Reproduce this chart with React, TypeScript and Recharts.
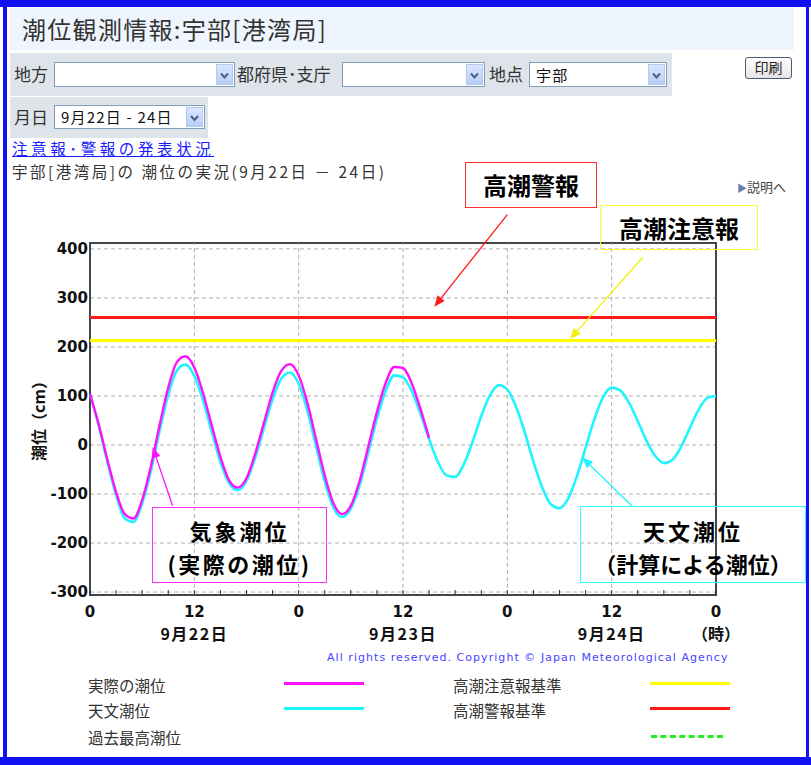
import React from "react"
import { LineChart, Line, XAxis, YAxis, CartesianGrid, ReferenceLine, ReferenceArea } from "recharts"

// hours from 0:00 on 9/22 to 0:00 on 9/25
const hours = Array.from({ length: 73 }, (_, i) => i)

// astronomical tide (cm), hourly
const tide = [
  104, 40, -35, -102, -150, -157, -119, -53, 28, 102, 152, 164, 141, 91, 27, -35, -78, -92, -73, -26,
  34, 93, 135, 148, 125, 70, -3, -75, -128, -147, -130, -83, -16, 53, 110, 142, 138, 110, 64, 12,
  -34, -62, -65, -39, 6, 59, 101, 122, 113, 78, 26, -34, -86, -121, -129, -109, -64, -6, 52, 97,
  117, 111, 86, 49, 9, -22, -37, -30, -3, 35, 72, 96, 100,
]

// observed tide (cm), hourly until about 15:00 on 9/23
const observed = [
  104, 42, -30, -96, -141, -150, -112, -44, 40, 117, 169, 181, 158, 106, 40, -24, -72, -87, -68, -18,
  45, 107, 151, 165, 142, 86, 12, -62, -119, -141, -124, -74, -4, 67, 126, 159, 157, 126, 74, 14,
]

const warningLevel = 260
const advisoryLevel = 213

const yTicks = [-300, -200, -100, 0, 100, 200, 300, 400]
const xTicks = Array.from({ length: 25 }, (_, i) => i * 3)
const gridHours = [12, 24, 36, 48, 60]
const dayTicks = [12, 36, 60]
const dayLabels = ["9月22日", "9月23日", "9月24日"]

const data = hours.map((h) => ({
  h,
  tide: tide[h],
  observed: h < observed.length ? observed[h] : null,
}))

const JP = '"Noto Sans CJK JP", sans-serif'
const NUM = '"DejaVu Sans", sans-serif'

const XTick = ({ x, y, payload }: any) => {
  const h = payload.value
  const di = dayTicks.indexOf(h)
  return (
    <g>
      <line x1={x} x2={x} y1={y} y2={y - 5} stroke="#333" strokeWidth={1} />
      {h % 12 === 0 && (
        <text x={x} y={y + 22} textAnchor="middle" fontFamily={NUM} fontWeight={700} fontSize={15} fill="#111">
          {h % 24 === 0 ? "0" : "12"}
        </text>
      )}
      {di >= 0 && (
        <text x={x} y={y + 45} textAnchor="middle" fontFamily={JP} fontWeight={700} fontSize={16} letterSpacing={1.5} fill="#111">
          {dayLabels[di]}
        </text>
      )}
      {h === 72 && (
        <text x={x} y={y + 45} textAnchor="middle" fontFamily={JP} fontWeight={700} fontSize={16} fill="#111">
          （時）
        </text>
      )}
    </g>
  )
}

const arrow = (color: string) => (p: any) => {
  const { x1, y1, x2, y2 } = p
  const a = Math.atan2(y2 - y1, x2 - x1)
  const len = 11
  const w = 4.5
  const bx = x2 - len * Math.cos(a)
  const by = y2 - len * Math.sin(a)
  const pts = `${x2},${y2} ${bx + w * Math.sin(a)},${by - w * Math.cos(a)} ${bx - w * Math.sin(a)},${by + w * Math.cos(a)}`
  return (
    <g>
      <line x1={x1} y1={y1} x2={bx} y2={by} stroke={color} strokeWidth={1.3} />
      <polygon points={pts} fill={color} />
    </g>
  )
}

const Select = ({ left, top, width, height = 25, text = "" }: any) => (
  <div
    style={{
      position: "absolute", left, top, width, height, boxSizing: "border-box",
      border: "1px solid #7f9db9", background: "#fff",
    }}
  >
    <span style={{ position: "absolute", left: 6, top: 0, fontSize: 15, lineHeight: `${height - 2}px`, color: "#111", letterSpacing: 1.2, whiteSpace: "nowrap" }}>{text}</span>
    <div
      style={{
        position: "absolute", right: 1, top: 1, bottom: 1, width: 17,
        background: "linear-gradient(#dbe6fe, #b8cdf8)", border: "1px solid #b3c7ef", boxSizing: "border-box",
      }}
    >
      <svg width={15} height={height - 4} style={{ position: "absolute", left: 0, top: 0 }}>
        <polyline points={`4,${(height - 4) / 2 - 2} 7.5,${(height - 4) / 2 + 2} 11,${(height - 4) / 2 - 2}`} fill="none" stroke="#4d6185" strokeWidth={2} />
      </svg>
    </div>
  </div>
)

const abs = (left: number, top: number, extra: any = {}) => ({ position: "absolute" as const, left, top, ...extra })

const boxText = { fontSize: 22, fontWeight: 700, color: "#000", whiteSpace: "nowrap" as const, textAlign: "center" as const }

export default function App() {
  return (
    <div style={{ position: "absolute", left: 0, top: 0, width: 811, height: 765, background: "#fff", overflow: "hidden", fontFamily: JP, color: "#333" }}>
      {/* page chrome */}
      <div style={abs(0, 0, { width: 811, height: 7, background: "#1010f0" })} />
      <div style={abs(3, 0, { width: 4, height: 765, background: "#1010f0" })} />
      <div style={abs(806, 0, { width: 3, height: 765, background: "#1010f0" })} />
      <div style={abs(0, 757, { width: 811, height: 8, background: "#1010f0" })} />

      <div style={abs(10, 8, { width: 784, height: 42, background: "#eef5fd" })} />
      <div style={abs(22, 13, { fontSize: 24, lineHeight: "32px", color: "#333", letterSpacing: 1.3, whiteSpace: "nowrap" })}>潮位観測情報:宇部[港湾局]</div>

      <div style={abs(10, 53, { width: 662, height: 43, background: "#dfe3ea" })} />
      <div style={abs(14, 61, { fontSize: 17, lineHeight: "26px" })}>地方</div>
      <Select left={54} top={62} width={181} />
      <div style={abs(237, 61, { fontSize: 17, lineHeight: "26px" })}>都府県･支庁</div>
      <Select left={342} top={62} width={143} />
      <div style={abs(489, 61, { fontSize: 17, lineHeight: "26px" })}>地点</div>
      <Select left={529} top={62} width={138} text="宇部" />
      <div
        style={abs(745, 57, {
          width: 47, height: 22, boxSizing: "border-box", border: "1.5px solid #4a5a70", borderRadius: 3,
          background: "linear-gradient(#fff, #e4e4e4)", fontSize: 14, lineHeight: "19px", textAlign: "center", color: "#222",
        })}
      >
        印刷
      </div>

      <div style={abs(10, 97, { width: 198, height: 41, background: "#dfe3ea" })} />
      <div style={abs(14, 104, { fontSize: 17, lineHeight: "26px" })}>月日</div>
      <Select left={54} top={105} width={151} height={24} text="9月22日 - 24日" />

      <div style={abs(12, 138, { fontSize: 15.5, lineHeight: "21px", color: "#1a1aff", textDecoration: "underline", letterSpacing: 3.6, whiteSpace: "nowrap" })}>注意報･警報の発表状況</div>
      <div style={abs(12, 161, { fontSize: 15.5, lineHeight: "20px", color: "#333", letterSpacing: 2.5, whiteSpace: "nowrap" })}>宇部[港湾局]の 潮位の実況(9月22日 － 24日)</div>
      <div style={abs(737, 178, { fontSize: 13, lineHeight: "18px", color: "#444" })}>
        <span style={{ color: "#6a7fb0", fontSize: 10 }}>▶</span>説明へ
      </div>

      {/* chart */}
      <div style={abs(0, 0)}>
        <LineChart width={811} height={660} data={data} margin={{ top: 243, right: 95, bottom: 0, left: 40 }}>
          <CartesianGrid vertical={false} stroke="#b0b0b0" strokeDasharray="4 3" />
          {gridHours.map((g) => (
            <ReferenceLine key={g} x={g} stroke="#b0b0b0" strokeDasharray="4 3" />
          ))}
          <XAxis
            dataKey="h"
            type="number"
            domain={[0, 72]}
            ticks={xTicks}
            interval={0}
            height={65}
            axisLine={false}
            tickLine={false}
            tickSize={0}
            tickMargin={0}
            tick={<XTick />}
          />
          <YAxis
            type="number"
            domain={[-306, 412]}
            allowDataOverflow
            ticks={yTicks}
            width={50}
            axisLine={false}
            tickLine={false}
            tickSize={0}
            tickMargin={2}
            tick={{ fill: "#111", fontSize: 15, fontWeight: 700, fontFamily: NUM }}
          />
          <ReferenceLine y={warningLevel} stroke="#ff1a1a" strokeWidth={3} />
          <ReferenceLine y={advisoryLevel} stroke="#ffff00" strokeWidth={3} />
          <Line type="monotone" dataKey="tide" stroke="#1ff5ff" strokeWidth={2.6} dot={false} isAnimationActive={false} />
          <Line type="monotone" dataKey="observed" stroke="#ff10ff" strokeWidth={2.4} dot={false} isAnimationActive={false} />
          <ReferenceArea x1={0} x2={72} y1={-306} y2={412} fill="none" stroke="#454545" strokeWidth={2} ifOverflow="visible" />
          <ReferenceLine ifOverflow="visible" segment={[{ x: 48, y: 470 }, { x: 39.6, y: 282 }]} shape={arrow("#ff1a1a")} />
          <ReferenceLine ifOverflow="visible" segment={[{ x: 63.6, y: 383 }, { x: 55.2, y: 216 }]} shape={arrow("#f2f200")} />
          <ReferenceLine ifOverflow="visible" segment={[{ x: 9.5, y: -124 }, { x: 7.2, y: -4 }]} shape={arrow("#ff10ff")} />
          <ReferenceLine ifOverflow="visible" segment={[{ x: 62.3, y: -124 }, { x: 56.6, y: -25 }]} shape={arrow("#1ff5ff")} />
        </LineChart>
      </div>

      <div
        style={abs(38, 417, {
          transform: "translate(-50%, -50%) rotate(-90deg)", transformOrigin: "center",
          fontSize: 16, fontWeight: 700, color: "#111", whiteSpace: "nowrap",
        })}
      >
        潮位（cm）
      </div>

      {/* annotation boxes */}
      <div style={abs(465, 162, { width: 132, height: 46, boxSizing: "border-box", border: "1.5px solid #ff3030" })} />
      <div style={abs(465, 170, { width: 132, lineHeight: "30px", ...boxText, fontSize: 24 })}>高潮警報</div>
      <div style={abs(600, 205, { width: 158, height: 45, boxSizing: "border-box", border: "1.5px solid #ffff30" })} />
      <div style={abs(600, 213, { width: 158, lineHeight: "30px", ...boxText, fontSize: 24 })}>高潮注意報</div>

      <div style={abs(152, 507, { width: 175, height: 76, boxSizing: "border-box", border: "1.5px solid #ff30ff" })} />
      <div style={abs(152, 515, { width: 175, lineHeight: "30px", ...boxText, letterSpacing: 3 })}>気象潮位</div>
      <div style={abs(152, 548, { width: 175, lineHeight: "30px", ...boxText, letterSpacing: 2.5 })}>(実際の潮位)</div>

      <div style={abs(580, 506, { width: 226, height: 77, boxSizing: "border-box", border: "1.5px solid #30ffff" })} />
      <div style={abs(580, 515, { width: 226, lineHeight: "30px", ...boxText, letterSpacing: 3 })}>天文潮位</div>
      <div style={abs(580, 548, { width: 226, lineHeight: "30px", ...boxText })}>（計算による潮位）</div>

      <div style={abs(327, 650, { fontFamily: NUM, fontSize: 11, lineHeight: "16px", color: "#4545ff", letterSpacing: 1.05, whiteSpace: "nowrap" })}>
        All rights reserved. Copyright © Japan Meteorological Agency
      </div>

      {/* legend */}
      <div style={abs(88, 674, { fontSize: 15.5, lineHeight: "22px", color: "#333" })}>実際の潮位</div>
      <div style={abs(284, 682, { width: 80, height: 3, background: "#ff10ff" })} />
      <div style={abs(88, 699, { fontSize: 15.5, lineHeight: "22px", color: "#333" })}>天文潮位</div>
      <div style={abs(284, 707, { width: 80, height: 3, background: "#1ff5ff" })} />
      <div style={abs(88, 726, { fontSize: 15.5, lineHeight: "22px", color: "#333" })}>過去最高潮位</div>
      <div style={abs(453, 674, { fontSize: 15.5, lineHeight: "22px", color: "#333" })}>高潮注意報基準</div>
      <div style={abs(650, 682, { width: 80, height: 3, background: "#ffff00" })} />
      <div style={abs(453, 699, { fontSize: 15.5, lineHeight: "22px", color: "#333" })}>高潮警報基準</div>
      <div style={abs(650, 707, { width: 80, height: 3, background: "#ff1a1a" })} />
      <div style={abs(651, 735, { width: 72, height: 0, borderTop: "3px dashed #22ee22" })} />
    </div>
  )
}
